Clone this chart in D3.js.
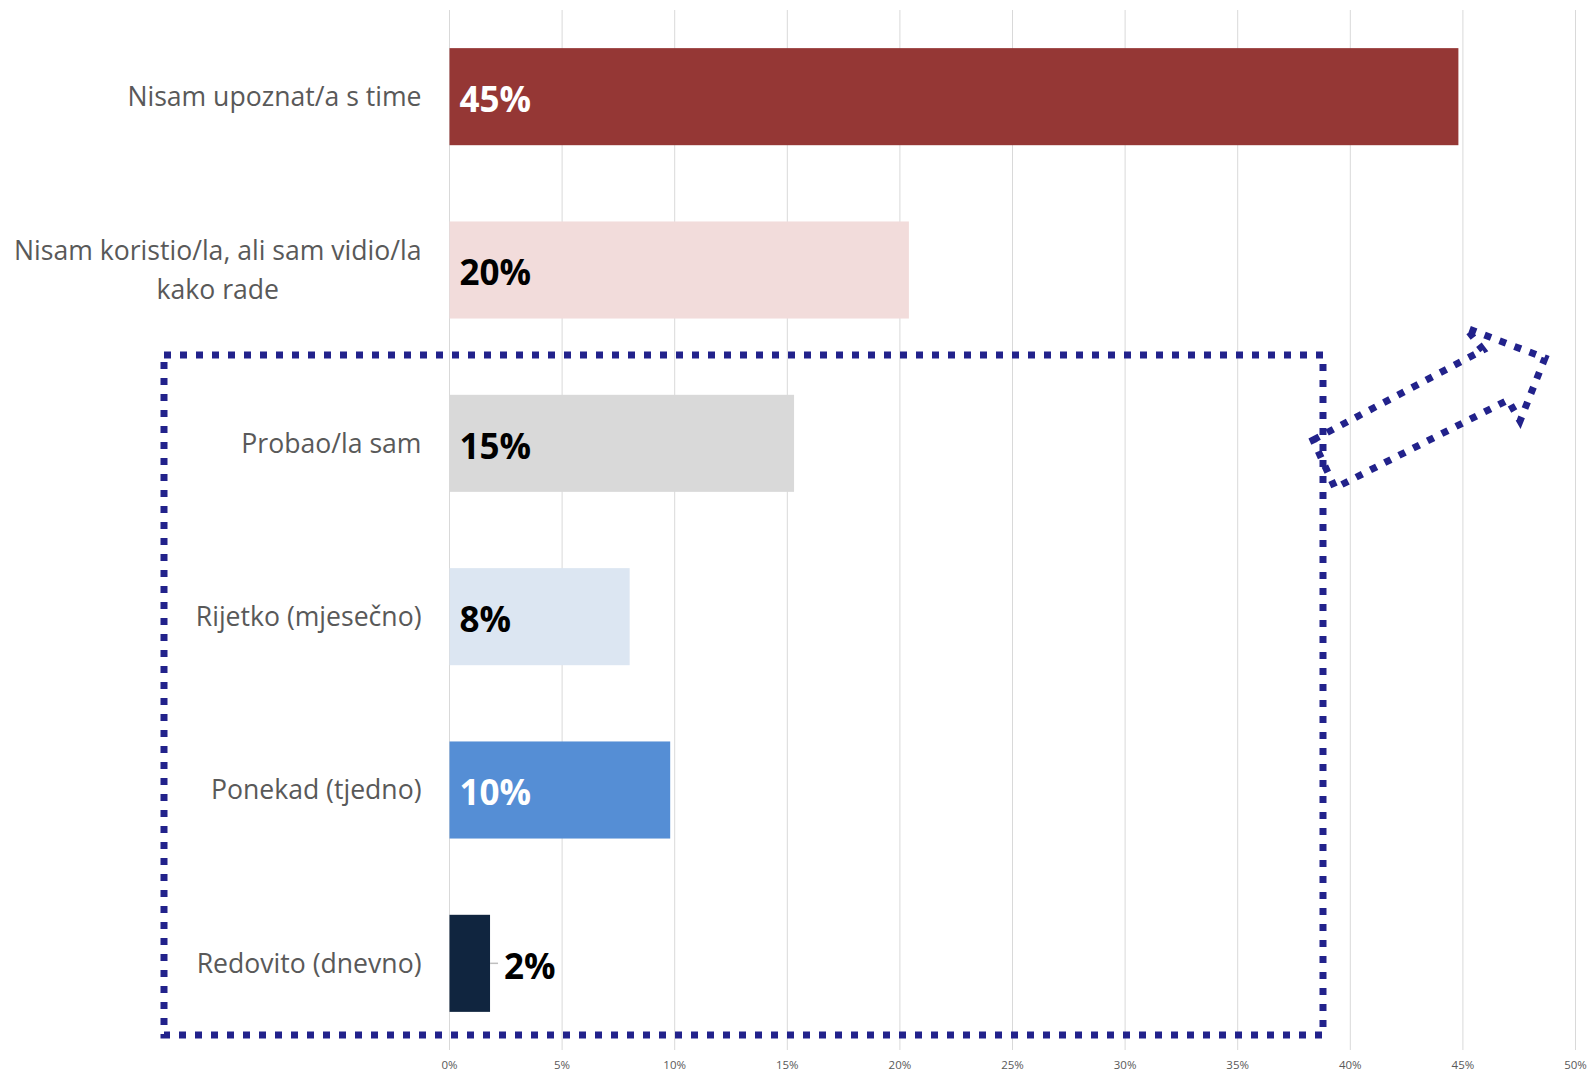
<!DOCTYPE html>
<meta charset="utf-8">
<style>
body { margin: 0; background: #fff; }
text { font-family: "Open Sans", sans-serif; }
.grid line { stroke: #d9d9d9; stroke-width: 1; }
.cat { fill: #595959; font-size: 26.6px; }
.tick-lbl { fill: #595959; font-size: 11.5px; }
.val { font-weight: bold; font-size: 35px; }
.dotted { fill: none; stroke: #22228b; stroke-width: 7; stroke-dasharray: 7 9; }
</style>
<body>
<script src="https://d3js.org/d3.v7.min.js"></script>
<script>

// chart data
var categories = [
  ["Nisam upoznat/a s time"],
  ["Nisam koristio/la, ali sam vidio/la", "kako rade"],
  ["Probao/la sam"],
  ["Rijetko (mjesečno)"],
  ["Ponekad (tjedno)"],
  ["Redovito (dnevno)"]
];
var values = [44.8, 20.4, 15.3, 8.0, 9.8, 1.8];
var barColors = ["#953735", "#f2dcdb", "#d9d9d9", "#dce6f2", "#558ed5", "#10253f"];
var labelColors = ["#ffffff", "#000000", "#000000", "#000000", "#ffffff", "#000000"];
var ticks = [0, 5, 10, 15, 20, 25, 30, 35, 40, 45, 50];

// annotation shapes (dotted frame + arrow), page pixels
var frame = {x0: 164, y0: 355, x1: 1323, y1: 1035};
var arrowPts = [[1313, 440], [1483, 350], [1466, 328], [1545, 358],
                [1520, 421], [1508, 400], [1335, 488]];

var W = 1591, H = 1073;
var margin = {top: 10, left: 449.5, right: 15.5, bottom: 23};

var svg = d3.select("body").append("svg")
    .attr("width", W)
    .attr("height", H);

var x = d3.scaleLinear().domain([0, 50]).range([margin.left, W - margin.right]);
var y = d3.scaleBand()
    .domain(d3.range(values.length))
    .range([margin.top, H - margin.bottom])
    .paddingInner(0.44)
    .paddingOuter(0.22);

// gridlines
svg.append("g").attr("class", "grid")
  .selectAll("line").data(ticks).join("line")
    .attr("x1", function(d) { return x(d); })
    .attr("x2", function(d) { return x(d); })
    .attr("y1", margin.top)
    .attr("y2", H - margin.bottom);

// tick labels
svg.append("g").selectAll("text").data(ticks).join("text")
    .attr("class", "tick-lbl")
    .attr("x", function(d) { return x(d); })
    .attr("y", H - 4)
    .attr("text-anchor", "middle")
    .text(function(d) { return d + "%"; });

// bars
svg.append("g").selectAll("rect").data(values).join("rect")
    .attr("x", x(0))
    .attr("y", function(d, i) { return y(i); })
    .attr("width", function(d) { return x(d) - x(0); })
    .attr("height", y.bandwidth())
    .attr("fill", function(d, i) { return barColors[i]; });

// category labels (multi-line ones are centred as a block)
var labelRight = x(0) - 28;
var lineH = 38.6;
categories.forEach(function(lines, i) {
  var cy = y(i) + y.bandwidth() / 2;
  var t = svg.append("text").attr("class", "cat");
  var spans = lines.map(function(s, k) {
    return t.append("tspan")
      .attr("y", cy + (k - (lines.length - 1) / 2) * lineH)
      .attr("dy", "0.35em")
      .text(s);
  });
  var maxW = d3.max(spans, function(s) { return s.node().getComputedTextLength(); });
  spans.forEach(function(s) {
    s.attr("x", labelRight - maxW / 2).attr("text-anchor", "middle");
  });
});

// value labels: inside base, outside end with leader when too short
values.forEach(function(v, i) {
  var cy = y(i) + y.bandwidth() / 2;
  var t = svg.append("text")
      .attr("class", "val")
      .attr("y", cy + 3)
      .attr("dy", "0.35em")
      .text(Math.round(v) + "%");
  var tw = t.node().getComputedTextLength();
  if (x(v) - x(0) > tw + 20) {
    t.attr("x", x(0) + 10).attr("fill", labelColors[i]);
  } else {
    svg.append("line")
        .attr("x1", x(v)).attr("x2", x(v) + 8)
        .attr("y1", cy).attr("y2", cy)
        .attr("stroke", "#bfbfbf").attr("stroke-width", 1.5);
    t.attr("x", x(v) + 14).attr("fill", "#000");
  }
});

// dotted frame
svg.append("rect")
    .attr("class", "dotted")
    .attr("x", frame.x0)
    .attr("y", frame.y0)
    .attr("width", frame.x1 - frame.x0)
    .attr("height", frame.y1 - frame.y0);

// dotted arrow
svg.append("path")
    .attr("class", "dotted")
    .attr("d", d3.line()(arrowPts) + "Z");

</script>
</body>
